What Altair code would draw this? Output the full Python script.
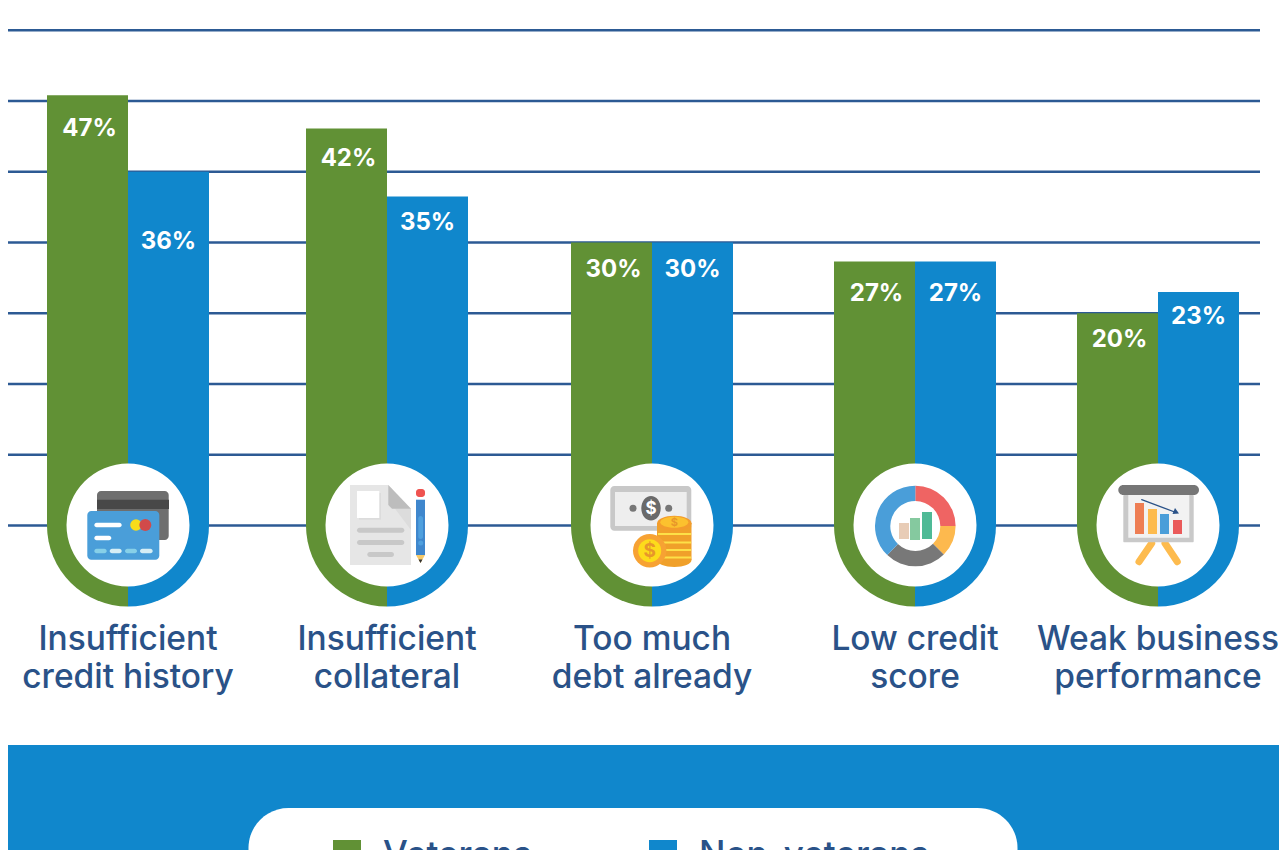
import math
import altair as alt
import pandas as pd

# ---------- chart values ----------
categories = ["Insufficient\ncredit history", "Insufficient\ncollateral", "Too much\ndebt already",
              "Low credit\nscore", "Weak business\nperformance"]
veterans = [47, 42, 30, 27, 20]
non_veterans = [36, 35, 30, 27, 23]
# bar tops as drawn, in gridline units (the drawing is not strictly proportional to the labels)
veterans_drawn = [60.8, 56.1, 40.0, 37.3, 30.0]
non_veterans_drawn = [50.0, 46.5, 40.0, 37.3, 33.0]
veterans_label_at = [56.3, 52.1, 36.4, 33.0, 26.5]
non_veterans_label_at = [40.3, 43.1, 36.4, 33.0, 29.7]
group_centres = [128, 387, 652, 915, 1158]
gridlines = [0, 10, 20, 30, 40, 50, 60, 70]
series = ["Veterans", "Non-veterans"]

GREEN, BLUE, NAVY, LINE = "#619135", "#1087cc", "#2a5288", "#2c5a94"
FONT = "Inter"
W = 1271
H = 842
ZERO = 525.5

xs = alt.Scale(domain=[8, 1279], range=[0, W])
ys = alt.Scale(domain=[8, 850], range=[0, H])
vs = alt.Scale(domain=[(ZERO - 8) / 7.075, (ZERO - 850) / 7.075], range=[0, H])


def X(f="x", scale=xs):
    return alt.X(f"{f}:Q", scale=scale, axis=None)


def Y(f="y", scale=ys):
    return alt.Y(f"{f}:Q", scale=scale, axis=None)


def frame(**kw):
    return alt.Chart(pd.DataFrame([kw]))


bars = pd.DataFrame({
    "cat": categories,
    "centre": group_centres,
    "vet": veterans, "non": non_veterans,
    "vet_top": veterans_drawn, "non_top": non_veterans_drawn,
    "vet_lab": veterans_label_at, "non_lab": non_veterans_label_at,
})
bars["l"] = bars["centre"] - 81
bars["r"] = bars["centre"] + 81
bars["lm"] = bars["centre"] - 38.5
bars["rm"] = bars["centre"] + 40.5
bars["base"] = 0
bars["overlap"] = -0.2
bars["g0"] = math.pi
bars["g1"] = 1.5 * math.pi
bars["b0"] = 0.5 * math.pi
bars["b1"] = math.pi
bars["vt"] = bars["vet"].astype(str) + "%"
bars["nt"] = bars["non"].astype(str) + "%"

grid_df = pd.DataFrame({"g": gridlines, "a": 6, "b": 1260})

data_layers = [
    alt.Chart(grid_df).mark_rule(color=LINE, strokeWidth=2.5).encode(
        x=X("a"), x2="b", y=Y("g", vs)),
    alt.Chart(bars).mark_arc(color=GREEN, radius=81).encode(
        x=X("centre"), y=Y("base", vs), theta=alt.Theta("g0:Q", scale=None), theta2="g1:Q"),
    alt.Chart(bars).mark_arc(color=BLUE, radius=81).encode(
        x=X("centre"), y=Y("base", vs), theta=alt.Theta("b0:Q", scale=None), theta2="b1:Q"),
    alt.Chart(bars).mark_bar(color=GREEN).encode(
        x=X("l"), x2="centre", y=Y("vet_top", vs), y2="overlap"),
    alt.Chart(bars).mark_bar(color=BLUE).encode(
        x=X("centre"), x2="r", y=Y("non_top", vs), y2="overlap"),
    alt.Chart(bars).mark_text(color="white", font=FONT, fontWeight=700, fontSize=24, baseline="middle", dy=2).encode(
        x=X("lm"), y=Y("vet_lab", vs), text="vt:N"),
    alt.Chart(bars).mark_text(color="white", font=FONT, fontWeight=700, fontSize=24, baseline="middle", dy=2).encode(
        x=X("rm"), y=Y("non_lab", vs), text="nt:N"),
]

deco = []


def rect(x, y, x2, y2, color, r=0):
    deco.append(frame(x=x, y=y, x2=x2, y2=y2).mark_rect(color=color, cornerRadius=r).encode(
        x=X(), x2="x2", y=Y(), y2="y2"))


def circle(x, y, r, color):
    deco.append(frame(x=x, y=y).mark_circle(color=color, opacity=1, size=4 * r * r).encode(x=X(), y=Y()))


def poly(points, color):
    cx, cy = points[0]
    path = "M" + " L".join(f"{px - cx} {py - cy}" for px, py in points) + " Z"
    deco.append(frame(x=cx, y=cy).mark_point(shape=path, size=4, filled=True, color=color, opacity=1, strokeWidth=0)
                .encode(x=X(), y=Y()))


def ellipse(cx, cy, rx, ry, color):
    path = f"M{-rx} 0 A{rx} {ry} 0 1 0 {rx} 0 A{rx} {ry} 0 1 0 {-rx} 0 Z"
    deco.append(frame(x=cx, y=cy).mark_point(shape=path, size=4, filled=True, color=color, opacity=1, strokeWidth=0)
                .encode(x=X(), y=Y()))


def seg(x, y, x2, y2, color, w):
    deco.append(frame(x=x, y=y, x2=x2, y2=y2).mark_rule(color=color, strokeWidth=w, strokeCap="round").encode(
        x=X(), x2="x2", y=Y(), y2="y2"))


def arc(cx, cy, a0, a1, r1, r0, color):
    deco.append(frame(x=cx, y=cy, a0=a0, a1=a1).mark_arc(color=color, radius=r1, radius2=r0).encode(
        x=X(), y=Y(), theta=alt.Theta("a0:Q", scale=None), theta2="a1:Q"))


def label(x, y, s, color, size, weight=700, align="center"):
    deco.append(frame(x=x, y=y, s=s).mark_text(color=color, font=FONT, fontSize=size, fontWeight=weight,
                                               align=align, baseline="middle").encode(x=X(), y=Y(), text="s:N"))


# white discs
for c in group_centres:
    circle(c, 525, 61.5, "white")

# icon 1: cards
rect(97, 491, 168.7, 540, "#6e6e6e", 4)
rect(97, 499.7, 169, 509, "#484848")
rect(87.3, 511, 159.3, 559.7, "#4a9ed9", 4)
rect(94.3, 522.7, 121.7, 527.3, "white", 2.3)
rect(94.3, 535.7, 111.3, 540.3, "white", 2.3)
for a, b, col in [(94.3, 106.7, "#87d0e8"), (109.7, 121.7, "#d6eef5"), (125, 137, "#87d0e8"), (140, 152.7, "#d6eef5")]:
    rect(a, 548.7, b, 553.3, col, 2.3)
circle(136, 525, 5.8, "#f8dc1a")
circle(145.3, 525, 6, "#d14a4a")

# icon 2: document + pencil
poly([(350, 485), (388.3, 485), (411, 508.7), (411, 565), (350, 565)], "#e6e6e6")
poly([(395, 508.7), (411, 508.7), (411, 530)], "#dcdcdc")
poly([(388.3, 485), (411, 508.7), (392, 508.7), (388.3, 505)], "#bdbdbd")
rect(359, 493, 381, 519.7, "#dcdcdc")
rect(357, 491, 379.3, 518, "white")
rect(357, 527.7, 404.3, 532.7, "#c8c8c8", 2.5)
rect(357, 540, 404.3, 545, "#c8c8c8", 2.5)
rect(367.3, 552, 394, 557, "#c8c8c8", 2.5)
rect(416, 489, 425, 497, "#ef5350", 3)
rect(416, 499.7, 425, 555, "#3f87cd")
rect(418.3, 516, 423, 539, "#4fa0de", 2.3)
circle(420.7, 543, 2.5, "#4fa0de")
poly([(416, 555), (425, 555), (420.5, 563)], "#f5c867")
poly([(418.5, 559.5), (422.5, 559.5), (420.5, 563)], "#333333")

# icon 3: banknote + coins
rect(610.3, 486, 691.3, 530.7, "#c8c8c8", 4)
rect(615, 492, 686.7, 526, "#eeeeee")
ellipse(651, 508.3, 9.7, 12.3, "#6a6a6a")
label(651, 509, "$", "white", 17)
circle(633, 508.3, 3.5, "#777777")
circle(668.7, 508.3, 3.5, "#777777")
ellipse(674.3, 560, 17.2, 7, "#f0a02a")
rect(657, 523, 691.5, 560, "#f0a02a")
for sy in [533, 541.5, 549, 556.5]:
    rect(658, sy, 691, sy + 2, "#fde047")
ellipse(674.3, 523.3, 17.2, 7.5, "#f39c2c")
ellipse(674.3, 522.3, 14, 5.5, "#fcc12e")
label(674.3, 523, "$", "#e8962a", 11)
circle(649.7, 550.7, 16.7, "#f7a233")
circle(649.7, 550.7, 11.5, "#fddb1b")
label(649.7, 551, "$", "#e8962a", 19)

# icon 4: donut
cd = math.pi / 180
for a0, a1, col in [(0, 90, "#ef6463"), (90, 135, "#fdb94e"), (135, 224, "#787878"), (224, 360, "#4a9ed9")]:
    arc(915.3, 526, a0 * cd, a1 * cd, 40.3, 25, col)
rect(899, 523, 909, 539, "#e8ccb6")
rect(910, 518, 920, 540, "#85c99f")
rect(922, 512, 932, 539, "#4fba96")

# icon 5: easel
seg(1151.7, 543.3, 1139, 561.7, "#fdbb4e", 7)
seg(1165, 543.3, 1177.3, 561.7, "#fdbb4e", 7)
rect(1123.3, 495, 1193.7, 542.3, "#c9c9c9", 1)
rect(1128.3, 495, 1189.3, 537.7, "#f2f2f2")
rect(1118.3, 485, 1199, 495, "#767676", 5)
rect(1135, 503, 1144, 534, "#ee7e54")
rect(1148, 509, 1157, 534, "#fdbb4e")
rect(1160, 514, 1169, 534, "#4a9ed9")
rect(1173, 520, 1182, 534, "#ea5a5a")
seg(1141.7, 499.7, 1176, 512.5, NAVY, 1.3)
poly([(1179, 513.5), (1172.5, 514), (1175, 508)], NAVY)

# category labels
cat_df = pd.DataFrame({"cat": categories, "x": group_centres, "y": 650})
deco.append(alt.Chart(cat_df).mark_text(color=NAVY, font=FONT, fontSize=33.5, fontWeight=500, lineBreak="\n",
                                        lineHeight=38, baseline="alphabetic").encode(
    x=X(), y=Y(), text="cat:N"))

# legend strip
rect(0, 745, 1287, 860, BLUE)
rect(248.5, 808, 1017.5, 920, "white", 40)
for xx, col, name, tx in [(333, GREEN, series[0], 383), (649, BLUE, series[1], 699)]:
    rect(xx, 840, xx + 28, 868, col)
    deco.append(frame(x=tx, y=866, s=name).mark_text(color=NAVY, font=FONT, fontSize=35, fontWeight=500, align="left",
                                                     baseline="alphabetic").encode(x=X(), y=Y(), text="s:N"))

chart = alt.layer(alt.layer(*data_layers), alt.layer(*deco)).resolve_scale(y="independent").properties(
    width=W, height=H, padding=0, autosize=alt.AutoSizeParams(type="none"), background="white"
).configure_view(stroke=None)

chart.save("out.html", embed_options={"renderer": "svg", "actions": False})
